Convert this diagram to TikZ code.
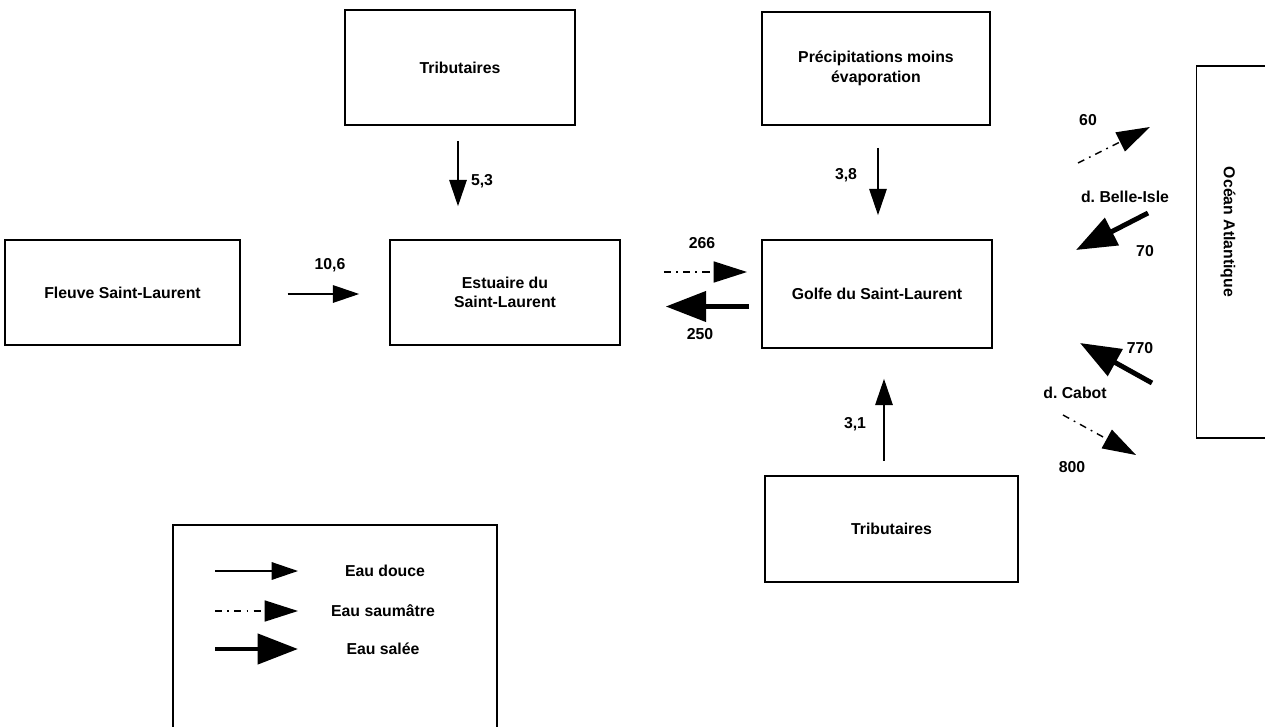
\documentclass[tikz,border=0pt]{standalone}
\usepackage{fontspec}
\setmainfont{Liberation Sans}
\frenchspacing
\usetikzlibrary{arrows.meta}
\begin{document}
\begin{tikzpicture}[x=0.02cm,y=-0.02cm,
  every node/.style={font=\fontsize{9}{11}\selectfont\bfseries},
  box/.style={draw,line width=1.1pt,rectangle,align=center,inner sep=0pt},
  lbl/.style={inner sep=1pt},
  fresh/.style={line width=0.8pt,-{Triangle[length=15pt,width=10pt]}},
  brack/.style={line width=0.8pt,dash pattern=on 4pt off 3pt on 1pt off 3pt,-{Triangle[length=19pt,width=12pt]}},
  salt/.style={line width=2.8pt,-{Triangle[length=23pt,width=17pt]}}]
\clip (0,0) rectangle (1265,727);
% boxes
\node[box,minimum width=4.7cm,minimum height=2.1cm] (fleuve) at (122.5,292.5) {Fleuve Saint-Laurent};
\node[box,minimum width=4.6cm,minimum height=2.1cm] (estuaire) at (505,292.5) {Estuaire du\\Saint-Laurent};
\node[box,minimum width=4.6cm,minimum height=2.16cm] (golfe) at (877,294) {Golfe du Saint-Laurent};
\node[box,minimum width=4.6cm,minimum height=2.3cm] (trib1) at (460,67.5) {Tributaires};
\node[box,minimum width=4.56cm,minimum height=2.26cm] (precip) at (876,68.5) {Précipitations moins\\évaporation};
\node[box,minimum width=5.06cm,minimum height=2.12cm] (trib2) at (891.5,529) {Tributaires};
\node[box,minimum width=1.7cm,minimum height=7.44cm] (ocean) at (1239,252) {};
\node[rotate=-90] (oceantxt) at (1228,232) {Océan Atlantique};
\node[box,minimum width=6.48cm,minimum height=4.3cm] (legend) at (335,632.5) {};
% connectors between boxes
\draw[fresh,shorten <=26.6pt,shorten >=17pt] ([yshift=-0.03cm]fleuve.east) -- ([yshift=-0.03cm]estuaire.west);
\draw[fresh,shorten <=8.5pt,shorten >=18.7pt] ([xshift=-0.04cm]trib1.south) -- ([xshift=-0.04cm]trib1.south |- estuaire.north);
\draw[brack,shorten <=24.4pt,shorten >=8pt] ([yshift=0.41cm]estuaire.east) -- ([yshift=0.41cm]estuaire.east -| golfe.west);
\draw[salt,shorten <=6.8pt,shorten >=25.5pt] ([yshift=-0.25cm]golfe.west) -- ([yshift=-0.25cm]golfe.west -| estuaire.east);
\draw[fresh,shorten <=12.5pt,shorten >=13.6pt] ([xshift=0.04cm]precip.south) -- ([xshift=0.04cm]precip.south |- golfe.north);
\draw[fresh,shorten <=8pt,shorten >=17pt] ([xshift=-0.15cm]trib2.north) -- ([xshift=-0.15cm]trib2.north |- golfe.south);
% connectors to the ocean
\coordinate (b60s) at (1078,163);
\coordinate (b60e) at (1150,127);
\coordinate (b70s) at (1148,213);
\coordinate (b70e) at (1076,250);
\coordinate (c770s) at (1152,383);
\coordinate (c770e) at (1080,343);
\coordinate (c800s) at (1063,415);
\coordinate (c800e) at (1136,455);
\draw[brack] (b60s) -- (b60e);
\draw[salt] (b70s) -- (b70e);
\draw[salt] (c770s) -- (c770e);
\draw[brack] (c800s) -- (c800e);
% labels
\node[lbl] (l106) at (330,265) {10,6};
\node[lbl] (l53) at (482,181) {5,3};
\node[lbl] (l266) at (702,243) {266};
\node[lbl] (l250) at (700,334) {250};
\node[lbl] (l38) at (846,175) {3,8};
\node[lbl] (l31) at (855,424) {3,1};
\node[lbl] (l60) at (1088,120) {60};
\node[lbl] (lbi) at (1125,197) {d. Belle-Isle};
\node[lbl] (l70) at (1145,251) {70};
\node[lbl] (l770) at (1140,348) {770};
\node[lbl] (lcab) at (1075,393) {d. Cabot};
\node[lbl] (l800) at (1072,467) {800};
% legend
\coordinate (k1s) at (215,571);
\coordinate (k1e) at (298,571);
\coordinate (k2s) at (215,611);
\coordinate (k2e) at (298,611);
\coordinate (k3s) at (215,649);
\coordinate (k3e) at (298,649);
\draw[fresh] (k1s) -- (k1e);
\draw[brack] (k2s) -- (k2e);
\draw[salt] (k3s) -- (k3e);
\node[lbl] (t1) at (385,571) {Eau douce};
\node[lbl] (t2) at (383,611) {Eau saumâtre};
\node[lbl] (t3) at (383,649) {Eau salée};
\end{tikzpicture}
\end{document}
